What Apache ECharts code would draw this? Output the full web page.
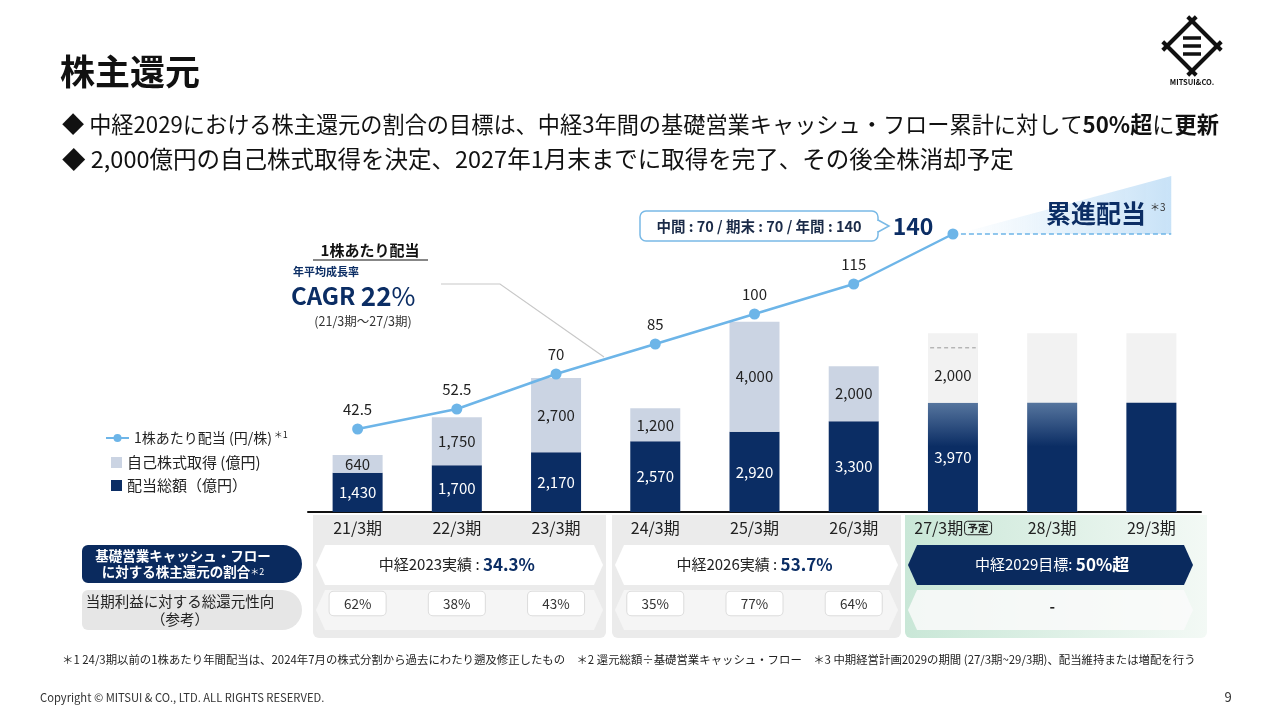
<!DOCTYPE html>
<html>
<head>
<meta charset="utf-8">
<title>株主還元</title>
<script src="https://cdn.jsdelivr.net/npm/echarts@6/dist/echarts.min.js"></script>
<style>
html, body { margin: 0; padding: 0; background: #fff; }
#main { width: 1280px; height: 720px; }
</style>
</head>
<body>
<div id="main"></div>
<script>
// データ
var periods = ['21/3期', '22/3期', '23/3期', '24/3期', '25/3期', '26/3期', '27/3期', '28/3期', '29/3期'];
var dividendTotal = [1430, 1700, 2170, 2570, 2920, 3300, 3970, 3970, 3970];   // 配当総額（億円）
var buyback = [640, 1750, 2700, 1200, 4000, 2000, 2000, null, null];          // 自己株式取得（億円）
var planFrame = [null, null, null, null, null, null, 6500, 6500, 6500];       // 中経2029 枠
var dps = [42.5, 52.5, 70, 85, 100, 115, 140, null, null];                    // 1株あたり配当（円/株）
var payoutRatio = ['62%', '38%', '43%', '35%', '77%', '64%', '', '-', ''];    // 総還元性向
var midTermLabels = ['', '中経2023実績 : ', '', '', '中経2026実績 : ', '', '', '中経2029目標: ', ''];
var midTermRates = ['', '34.3%', '', '', '53.7%', '', '', '50%超', ''];

var FONT = '"Noto Sans CJK JP", "Noto Sans", sans-serif';
var NAVY = '#0b2d64';
var LIGHT = '#cbd4e3';
var LINE_C = '#6db5e8';
var TXT = '#222';

function fmt(p) {
    return p.value == null ? '' : Number(p.value).toLocaleString('en-US');
}

// テキスト要素
function txt(x, y, text, size, opt) {
    opt = opt || {};
    return {
        type: 'text', z: opt.z || 5, silent: true,
        style: {
            x: x, y: y, text: text,
            fontSize: size, fontFamily: FONT,
            fontWeight: opt.weight || 'normal',
            fill: opt.color || TXT,
            textAlign: opt.align || 'left', align: opt.align || 'left',
            textVerticalAlign: 'middle', verticalAlign: 'middle',
            rich: opt.rich
        }
    };
}
function hex(x1, x2, y1, y2, fill, z) {
    var ym = (y1 + y2) / 2;
    return {
        type: 'polygon', z: z || -5, silent: true,
        shape: { points: [[x1, ym], [x1 + 9, y1], [x2 - 9, y1], [x2, ym], [x2 - 9, y2], [x1 + 9, y2]] },
        style: { fill: fill }
    };
}
function seg(x1, y1, x2, y2, color, w) {
    return { type: 'line', z: 5, silent: true, shape: { x1: x1, y1: y1, x2: x2, y2: y2 }, style: { stroke: color, lineWidth: w } };
}

var chart = echarts.init(document.getElementById('main'));

var gradBar = new echarts.graphic.LinearGradient(0, 0, 0, 1, [
    { offset: 0, color: '#56759e' }, { offset: 0.4, color: NAVY }, { offset: 1, color: NAVY }
]);

var dividendData = dividendTotal.map(function (v, i) {
    var item = { value: v };
    if (i === 6 || i === 7) item.itemStyle = { color: gradBar };
    if (i > 6) item.label = { show: false };
    return item;
});
var buybackData = buyback.map(function (v, i) {
    var item = { value: v };
    if (i === 6) item.itemStyle = { color: '#f2f2f2' };
    return item;
});
var dpsData = dps.map(function (v, i) {
    if (i === 6) {
        return { value: v, label: { position: 'left', distance: 14, offset: [0, -8], fontSize: 23, fontWeight: 'bold', color: NAVY, fontFamily: FONT } };
    }
    return v;
});

// ロゴ
var logoC = [1192, 46], lg = [];
(function () {
    var cx = logoC[0], cy = logoC[1], h = 25, e = 6;
    var corners = [[cx, cy - h], [cx + h, cy], [cx, cy + h], [cx - h, cy]];
    for (var i = 0; i < 4; i++) {
        var a = corners[i], b = corners[(i + 1) % 4];
        var len = Math.hypot(b[0] - a[0], b[1] - a[1]);
        var dx = (b[0] - a[0]) / len * e, dy = (b[1] - a[1]) / len * e;
        lg.push(seg(a[0] - dx, a[1] - dy, b[0] + dx, b[1] + dy, '#111', 4));
    }
    lg.push(seg(cx - 9, cy - 8, cx + 9, cy - 8, '#111', 3.5));
    lg.push(seg(cx - 9, cy, cx + 9, cy, '#111', 3.5));
    lg.push(seg(cx - 9, cy + 8, cx + 9, cy + 8, '#111', 3.5));
    lg.push(txt(cx, 82, 'MITSUI&CO.', 7.5, { weight: 'bold', align: 'center', color: '#111' }));
})();

var panelGreen = new echarts.graphic.LinearGradient(0, 0, 1, 0, [
    { offset: 0, color: '#c9e7d7' }, { offset: 1, color: '#f3f9f5' }
]);
var wedgeFill = new echarts.graphic.LinearGradient(0, 0, 1, 0, [
    { offset: 0, color: 'rgba(214,235,250,0)' }, { offset: 0.5, color: 'rgba(210,232,249,0.6)' }, { offset: 1, color: 'rgba(200,226,247,1)' }
]);

var graphics = [
    txt(60, 72, '株主還元', 35, { weight: 'bold', color: '#111' }),
    txt(62, 125, '◆ 中経2029における株主還元の割合の目標は、中経3年間の基礎営業キャッシュ・フロー累計に対して{b|50%超}に{b|更新}', 22.2, {
        color: '#111',
        rich: { b: { fontSize: 22.2, fontFamily: FONT, fontWeight: 'bold', fill: '#111' } }
    }),
    txt(62, 159, '◆ 2,000億円の自己株式取得を決定、2027年1月末までに取得を完了、その後全株消却予定', 23.5, { color: '#111' }),

    // 吹き出し
    { type: 'rect', z: 5, silent: true, shape: { x: 640, y: 211, width: 238, height: 30, r: 6 }, style: { fill: '#fff', stroke: '#79b9e6', lineWidth: 1.5 } },
    seg(878, 221, 878, 231, '#fff', 3),
    { type: 'polyline', z: 6, silent: true, shape: { points: [[878, 220], [889, 226], [878, 232]] }, style: { stroke: '#79b9e6', lineWidth: 1.5, fill: null } },
    txt(759, 226, '中間 : 70 / 期末 : 70 / 年間 : 140', 14.5, { weight: 'bold', align: 'center', color: '#1b2b48' }),

    // 1株あたり配当・CAGR
    txt(370, 250, '1株あたり配当', 15, { weight: 'bold', align: 'center', color: '#111' }),
    seg(313, 260, 428, 260, '#111', 1),
    txt(293, 272, '年平均成長率', 11, { weight: 'bold', color: NAVY }),
    txt(291, 296, '{a|CAGR }{b|22}{c|%}', 24, {
        color: NAVY,
        rich: {
            a: { fontSize: 24, fontWeight: 'bold', fontFamily: FONT, fill: NAVY },
            b: { fontSize: 26, fontWeight: 'bold', fontFamily: FONT, fill: NAVY },
            c: { fontSize: 26, fontWeight: 'normal', fontFamily: FONT, fill: NAVY }
        }
    }),
    txt(363, 321, '(21/3期～27/3期)', 12.5, { align: 'center', color: '#333' }),
    { type: 'polyline', z: 1, silent: true, shape: { points: [[441, 284], [500, 284], [604, 357]] }, style: { stroke: '#c8c8c8', lineWidth: 1.2, fill: null } },

    // 累進配当
    txt(1146, 213, '累進配当', 25, { weight: 'bold', align: 'right', color: NAVY }),
    txt(1150, 207, '＊3', 10, { color: '#333' }),

    // パネル
    { type: 'rect', z: -6, silent: true, shape: { x: 313, y: 515, width: 293, height: 123, r: [0, 0, 6, 6] }, style: { fill: '#ebebeb' } },
    { type: 'rect', z: -6, silent: true, shape: { x: 612, y: 515, width: 289, height: 123, r: [0, 0, 6, 6] }, style: { fill: '#ebebeb' } },
    { type: 'rect', z: -6, silent: true, shape: { x: 905, y: 515, width: 302, height: 123, r: [0, 0, 6, 6] }, style: { fill: panelGreen } },
    hex(316, 603, 545, 585, '#ffffff'),
    hex(615, 898, 545, 585, '#ffffff'),
    hex(908, 1193, 545, 585, '#0a2a5e'),
    hex(316, 603, 590, 630, '#f5f5f5'),
    hex(615, 898, 590, 630, '#f5f5f5'),
    hex(908, 1193, 590, 630, 'rgba(250,250,250,0.85)'),

    // 左ラベル
    { type: 'rect', z: -5, silent: true, shape: { x: 82, y: 545, width: 220, height: 38, r: [6, 19, 19, 6] }, style: { fill: '#0a2a5e' } },
    { type: 'rect', z: -5, silent: true, shape: { x: 82, y: 590, width: 220, height: 40, r: [6, 20, 20, 6] }, style: { fill: '#e6e6e6' } },
    txt(183, 556, '基礎営業キャッシュ・フロー', 13.5, { weight: 'bold', align: 'center', color: '#fff' }),
    txt(183, 572, '{a|に対する株主還元の割合}{s|＊2}', 13.5, {
        align: 'center', color: '#fff',
        rich: {
            a: { fontSize: 13.5, fontWeight: 'bold', fontFamily: FONT, fill: '#fff' },
            s: { fontSize: 9, fontFamily: FONT, fill: '#fff' }
        }
    }),
    txt(180, 601, '当期利益に対する総還元性向', 14.5, { align: 'center' }),
    txt(180, 619, '（参考）', 14.5, { align: 'center' }),

    // 注記
    txt(62, 660, '＊1 24/3期以前の1株あたり年間配当は、2024年7月の株式分割から過去にわたり遡及修正したもの　＊2 還元総額÷基礎営業キャッシュ・フロー　＊3 中期経営計画2029の期間 (27/3期~29/3期)、配当維持または増配を行う', 11.4),
    txt(40, 698, 'Copyright © MITSUI & CO., LTD. ALL RIGHTS RESERVED.', 11.2, { color: '#333' }),
    txt(1228, 697, '9', 13, { align: 'center', color: '#333' })
].concat(lg);

var option = {
    animation: false,
    textStyle: { fontFamily: FONT },
    grid: { left: 308, width: 893, top: 182, height: 330 },
    legend: [
        {
            data: ['1株あたり配当 (円/株)'], left: 100, top: 425,
            itemWidth: 23, itemHeight: 10, selectedMode: false,
            formatter: function (n) { return n + '{sup|＊1}'; },
            textStyle: {
                fontSize: 14, color: TXT, fontFamily: FONT,
                rich: { sup: { fontSize: 9, color: TXT, fontFamily: FONT, padding: [0, 0, 7, 2] } }
            }
        },
        {
            data: ['自己株式取得 (億円)', '配当総額（億円）'], orient: 'vertical',
            left: 106, top: 450, itemWidth: 11, itemHeight: 11, itemGap: 8,
            icon: 'rect', selectedMode: false,
            textStyle: { fontSize: 15, color: TXT, fontFamily: FONT }
        }
    ],
    xAxis: [
        {
            type: 'category', data: periods,
            axisLine: { lineStyle: { color: '#111', width: 2 } },
            axisTick: { show: false },
            axisLabel: {
                fontSize: 16, color: TXT, margin: 8, interval: 0,
                formatter: function (v) { return v === '27/3期' ? '{p|' + v + '}{gap| }{tag|予定}' : '{p|' + v + '}'; },
                rich: {
                    p: { fontSize: 16, color: TXT, fontFamily: FONT },
                    gap: { fontSize: 6, fontFamily: FONT },
                    tag: { fontSize: 10.5, fontWeight: 'bold', color: TXT, fontFamily: FONT, borderColor: '#222', borderWidth: 1, borderRadius: 3, padding: [2, 3, 1, 3] }
                }
            }
        },
        {
            type: 'category', data: periods, position: 'bottom', offset: 80,
            axisLine: { show: false }, axisTick: { show: false },
            axisLabel: {
                margin: 4, interval: 0,
                formatter: function (v) {
                    var s = payoutRatio[periods.indexOf(v)];
                    if (s === '-') return '{dash|-}';
                    return s ? '{box|' + s + '}' : '';
                },
                rich: {
                    box: { fontSize: 13.5, color: '#333', fontFamily: FONT, backgroundColor: '#fff', borderColor: '#dcdcdc', borderWidth: 1, borderRadius: 4, width: 40, align: 'center', padding: [5, 8, 5, 8], lineHeight: 15 },
                    dash: { fontSize: 15, fontWeight: 'bold', color: TXT, fontFamily: FONT, padding: [11, 0, 5, 0], lineHeight: 15 }
                }
            }
        },
        {
            type: 'category', data: periods, position: 'bottom', offset: 40,
            axisLine: { show: false }, axisTick: { show: false },
            axisLabel: {
                margin: 4, interval: 0,
                formatter: function (v) {
                    var i = periods.indexOf(v);
                    if (!midTermLabels[i]) return '';
                    return i === 7
                        ? '{nw|' + midTermLabels[i] + '}{bw|' + midTermRates[i] + '}'
                        : '{n|' + midTermLabels[i] + '}{b|' + midTermRates[i] + '}';
                },
                rich: {
                    n: { fontSize: 15, color: TXT, fontFamily: FONT },
                    b: { fontSize: 17, fontWeight: 'bold', color: NAVY, fontFamily: FONT },
                    nw: { fontSize: 15, color: '#fff', fontFamily: FONT },
                    bw: { fontSize: 17, fontWeight: 'bold', color: '#fff', fontFamily: FONT }
                }
            }
        }
    ],
    yAxis: [
        { type: 'value', min: 0, max: 12000, show: false },
        { type: 'value', min: 1, max: 166, show: false }
    ],
    series: [
        {
            name: '中経2029枠', type: 'bar', barWidth: 50, barGap: '-100%', z: 1, silent: true,
            itemStyle: { color: '#f2f2f2' }, data: planFrame
        },
        {
            name: '配当総額（億円）', type: 'bar', stack: 'total', barWidth: 50, z: 2,
            itemStyle: { color: NAVY }, data: dividendData,
            label: { show: true, position: 'inside', color: '#fff', fontSize: 15, fontFamily: FONT, formatter: fmt }
        },
        {
            name: '自己株式取得 (億円)', type: 'bar', stack: 'total', barWidth: 50, z: 2,
            itemStyle: { color: LIGHT }, data: buybackData,
            label: { show: true, position: 'inside', color: TXT, fontSize: 15, fontFamily: FONT, formatter: fmt }
        },
        {
            name: '予定上限', type: 'custom', z: 3, silent: true, clip: false,
            data: [[6, dividendTotal[6] + buyback[6]]],
            renderItem: function (params, api) {
                var p = api.coord([api.value(0), api.value(1)]);
                var w = api.size([1, 0])[0] * 0.5;
                return {
                    type: 'line',
                    shape: { x1: p[0] - w / 2 + 2, y1: p[1], x2: p[0] + w / 2 - 2, y2: p[1] },
                    style: { stroke: '#9a9a9a', lineWidth: 1, lineDash: [4, 3] }
                };
            }
        },
        {
            name: '累進配当', type: 'custom', yAxisIndex: 1, z: 3, silent: true, clip: false,
            data: [[6, 8, dps[6], 169]],
            renderItem: function (params, api) {
                var p0 = api.coord([api.value(0), api.value(2)]);
                var p1 = api.coord([api.value(1), api.value(2)]);
                var yTop = api.coord([api.value(1), api.value(3)])[1];
                var xr = p1[0] + api.size([1, 0])[0] * 0.2;
                return {
                    type: 'group',
                    children: [
                        { type: 'polygon', shape: { points: [[p0[0] + 4, p0[1]], [xr, p0[1]], [xr, yTop]] }, style: { fill: wedgeFill } },
                        { type: 'line', shape: { x1: p0[0], y1: p0[1], x2: xr, y2: p0[1] }, style: { stroke: LINE_C, lineWidth: 1.5, lineDash: [5, 3] } }
                    ]
                };
            }
        },
        {
            name: '1株あたり配当 (円/株)', type: 'line', yAxisIndex: 1, z: 5,
            data: dpsData, symbol: 'circle', symbolSize: 11,
            lineStyle: { color: LINE_C, width: 2.5 }, itemStyle: { color: LINE_C },
            label: { show: true, position: 'top', distance: 7, fontSize: 15, color: TXT, fontFamily: FONT }
        }
    ],
    graphic: graphics
};

option && chart.setOption(option);
</script>
</body>
</html>
